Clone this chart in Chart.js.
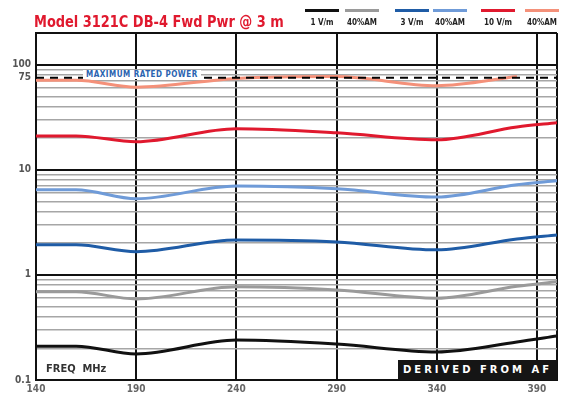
<!DOCTYPE html>
<html>
<head>
<meta charset="utf-8">
<script src="https://cdn.jsdelivr.net/npm/chart.js@4"></script>
<style>
body { margin: 0; background: #fff; }
#wrap { position: relative; width: 563px; height: 398px; }
.title { position: absolute; left: 34px; top: 12px; color: #e0192e; font: bold 16px "DejaVu Sans Condensed", sans-serif; white-space: nowrap; transform: scaleX(0.9); transform-origin: left top; }
.leg { position: absolute; top: 9px; width: 34px; }
.leg .ln { height: 2.5px; }
.leg .tx { margin-top: 6px; font: bold 8px "DejaVu Sans Condensed", sans-serif; color: #222; text-align: center; white-space: nowrap; }
.maxlbl { position: absolute; left: 83px; top: 70px; background: #fff; color: #2a63b0; font: bold 8px "DejaVu Sans Condensed", sans-serif; letter-spacing: 0.5px; padding: 0 3px; }
.freq { position: absolute; left: 46px; top: 362px; color: #333; font: bold 11px "DejaVu Sans Condensed", sans-serif; }
.derived { position: absolute; left: 398px; top: 360px; width: 159px; height: 20px; background: #151515; color: #fff; font: bold 10px "DejaVu Sans", sans-serif; letter-spacing: 3px; line-height: 20px; text-align: center; }
</style>
</head>
<body>
<div id="wrap">
  <canvas id="chart" width="563" height="398"></canvas>
  <div class="title">Model 3121C DB-4 Fwd Pwr @ 3 m</div>
  <div id="legend"></div>
  <div class="maxlbl">MAXIMUM RATED POWER</div>
  <div class="freq">FREQ&nbsp;&nbsp;MHz</div>
  <div class="derived">DERIVED FROM AF</div>
</div>
<script>
// frekuensi (MHz) dan nilai tiap seri (V/m)
const freqs = [140, 160, 190, 240, 290, 340, 380, 400];
const v1 = [0.21, 0.21, 0.177, 0.24, 0.22, 0.185, 0.23, 0.262];
const v1am = [0.69, 0.69, 0.59, 0.77, 0.72, 0.60, 0.78, 0.86];
const v3 = [1.93, 1.93, 1.66, 2.15, 2.06, 1.73, 2.2, 2.4];
const v3am = [6.45, 6.45, 5.3, 7.0, 6.6, 5.5, 7.2, 7.85];
const v10 = [21, 21, 18.5, 24.6, 22.5, 19.3, 25.5, 28];
const v10am = [71, 71, 61, 74, 77, 63, 77, null];
const maxRated = 75;

const xTicks = [140, 190, 240, 290, 340, 390, 400];
const yLabels = [0.1, 1, 10, 75, 100];
const yMajor = [0.1, 1, 10, 100, 200];

const seriesNames = ["1 V/m", "40%AM", "3 V/m", "40%AM", "10 V/m", "40%AM"];
const seriesColors = ["#111111", "#9a9a9a", "#1f5ca6", "#6f9bd8", "#e0192e", "#f4917a"];
const seriesData = [v1, v1am, v3, v3am, v10, v10am];

// legenda di atas
const legX = [305, 345, 395, 433, 481, 525];
const legend = document.getElementById("legend");
seriesNames.forEach((name, i) => {
    const d = document.createElement("div");
    d.className = "leg";
    d.style.left = legX[i] + "px";
    d.innerHTML = '<div class="ln" style="background:' + seriesColors[i] + '"></div><div class="tx">' + name + '</div>';
    legend.appendChild(d);
});

const datasets = seriesData.map((vals, i) => ({
    label: seriesNames[i],
    data: freqs.map((f, j) => ({ x: f, y: vals[j] })),
    borderColor: seriesColors[i],
    borderWidth: 3,
    pointRadius: 0,
    tension: 0.4,
    cubicInterpolationMode: "monotone",
    spanGaps: false
}));
datasets.unshift({
    label: "max",
    data: [{ x: 140, y: maxRated }, { x: 400, y: maxRated }],
    borderColor: "#000",
    borderWidth: 2,
    borderDash: [8, 6],
    pointRadius: 0
});

const ctx = document.getElementById("chart").getContext("2d");
new Chart(ctx, {
    type: "line",
    data: { datasets: datasets },
    options: {
        responsive: false,
        animation: false,
        devicePixelRatio: 1,
        layout: { padding: { top: 33, right: 6, left: 0, bottom: 0 } },
        plugins: { legend: { display: false }, tooltip: { enabled: false } },
        scales: {
            x: {
                type: "linear",
                min: 140,
                max: 400,
                afterBuildTicks: s => { s.ticks = xTicks.map(v => ({ value: v })); },
                afterFit: s => { s.height = 18; },
                ticks: {
                    autoSkip: false,
                    maxRotation: 0,
                    padding: 3,
                    color: "#666",
                    font: { size: 10, weight: "bold", family: "DejaVu Sans Condensed" },
                    callback: v => (v === 400 ? "" : v)
                },
                grid: { color: "#111", lineWidth: 2, drawTicks: false },
                border: { color: "#111", width: 2 }
            },
            y: {
                type: "logarithmic",
                min: 0.1,
                max: 200,
                afterBuildTicks: s => {
                    const t = [];
                    [0.1, 1, 10].forEach(d => {
                        for (let k = 1; k < 10; k++) t.push({ value: +(d * k).toPrecision(3) });
                    });
                    t.push({ value: 75 }, { value: 100 }, { value: 200 });
                    s.ticks = t;
                },
                afterFit: s => { s.width = 36; },
                ticks: {
                    autoSkip: false,
                    padding: 5,
                    color: "#555",
                    font: { size: 10, weight: "bold", family: "DejaVu Sans Condensed" },
                    callback: v => (yLabels.includes(v) ? String(v) : "")
                },
                grid: {
                    drawTicks: false,
                    color: c => {
                        const v = c.tick.value;
                        if (v === 75) return "rgba(0,0,0,0)";
                        if (yMajor.includes(v)) return "#111";
                        return "#a6a6a6";
                    },
                    lineWidth: c => (yMajor.includes(c.tick.value) ? 2 : 1.5)
                },
                border: { color: "#111", width: 2 }
            }
        }
    }
});
</script>
</body>
</html>
